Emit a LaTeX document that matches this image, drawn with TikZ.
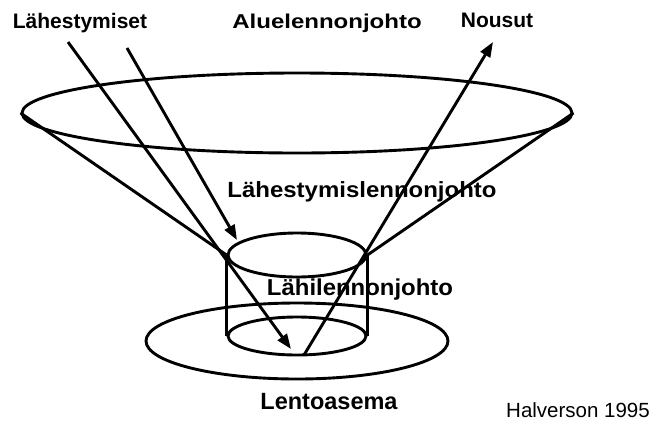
\documentclass[tikz,border=0pt]{standalone}
\usepackage{fontspec}
\setmainfont{Liberation Sans}
\usetikzlibrary{shapes.geometric,arrows.meta,positioning}
\newcommand{\widetext}[2]{\scalebox{#1}[1]{#2}}

\begin{document}
\begin{tikzpicture}[
    x=1pt, y=-1pt,
    ring/.style={draw, ellipse, line width=2.9pt, inner sep=0pt},
    edge/.style={line width=2.9pt},
    flow/.style={edge, -{Triangle[length=15pt,width=11pt]}},
    lbl/.style={anchor=base, inner sep=0pt, font=\bfseries\fontsize{21}{21}\selectfont},
    lblbig/.style={lbl, font=\bfseries\fontsize{23}{23}\selectfont}
]
    \useasboundingbox (0,0) rectangle (653,421);

    % Area control cone top
    \node[ring, minimum width=550pt, minimum height=80pt] (alue) at (297,113) {};

    % Tower cylinder
    \node[ring, minimum width=138pt, minimum height=44pt] (lahiTop) at (297,255) {};
    \node[ring, minimum width=138pt, minimum height=38pt] (lahiBot) at (297,336) {};
    \draw[edge] (lahiTop.west) -- (lahiBot.west);
    \draw[edge] (lahiTop.east) -- (lahiBot.east);

    % Airport ring
    \node[ring, minimum width=302pt, minimum height=76pt] (asema) at (297,341) {};

    % Cone sides
    \draw[edge] (alue.west) -- (lahiTop.west);
    \draw[edge] (alue.east) -- (lahiTop.east);

    % Labels
    \node[lbl] (lahestymiset) at (80,28) {Lähestymiset};
    \node[lbl, font=\bfseries\fontsize{20}{20}\selectfont] (aluelennonjohto) at (327,28) {\widetext{1.2}{Aluelennonjohto}};
    \node[lbl] (nousut) at (497,27) {Nousut};
    \node[lbl, font=\bfseries\fontsize{22}{22}\selectfont] (lahestymislj) at (362,197) {\widetext{1.09}{Lähestymislennonjohto}};
    \node[lblbig] (lahilj) at (360,295) {\widetext{1.04}{Lähilennonjohto}};
    \node[lblbig, font=\bfseries\fontsize{23.5}{23.5}\selectfont] (lentoasema) at (329,409) {Lentoasema};
    \node[anchor=base, inner sep=0pt, font=\fontsize{20.5}{20.5}\selectfont] (lahde) at (578,417) {Halverson 1995};

    % Approach and departure paths
    \coordinate (app1s) at (68,42);
    \coordinate (app1e) at (291,349);
    \coordinate (app2s) at (127,48);
    \coordinate (app2e) at (237,240);
    \coordinate (deps) at (304,355);
    \coordinate (depe) at (493,42);
    \draw[flow] (app1s) -- (app1e);
    \draw[flow] (app2s) -- (app2e);
    \draw[flow] (deps) -- (depe);
\end{tikzpicture}
\end{document}
